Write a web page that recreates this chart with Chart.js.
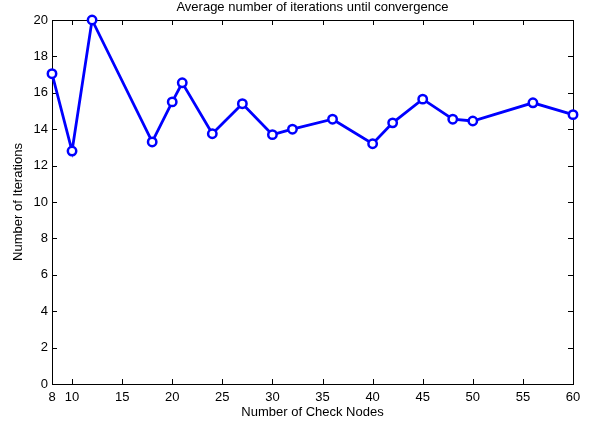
<!DOCTYPE html>
<html>
<head>
<meta charset="utf-8">
<title>Average number of iterations until convergence</title>
<script src="https://cdn.jsdelivr.net/npm/chart.js@4.4.1/dist/chart.umd.min.js"></script>
<style>
    html, body { margin: 0; padding: 0; background: #fff; }
    #wrap { width: 594px; height: 426px; }
</style>
</head>
<body>
<div id="wrap"><canvas id="iterChart" width="594" height="426"></canvas></div>
<script>
// Values
const checkNodes = [8, 10, 12, 18, 20, 21, 24, 27, 30, 32, 36, 40, 42, 45, 48, 50, 56, 60];
const iterations = [17.05, 12.8, 20, 13.3, 15.5, 16.55, 13.75, 15.4, 13.7, 14.0, 14.55, 13.2, 14.35, 15.65, 14.55, 14.45, 15.45, 14.8];
const xTicks = [8, 10, 15, 20, 25, 30, 35, 40, 45, 50, 55, 60];
const yTicks = [0, 2, 4, 6, 8, 10, 12, 14, 16, 18, 20];

const chartTitle = 'Average number of iterations until convergence';
const FONT = '"Liberation Sans", Arial, Helvetica, sans-serif';

// MATLAB style box with inward tick marks on all four sides, plus title
const matlabFrame = {
    id: 'matlabFrame',
    beforeDatasetsDraw(chart) {
        const { ctx, chartArea: a, scales } = chart;
        const len = 5;
        ctx.save();
        ctx.strokeStyle = '#000';
        ctx.lineWidth = 1;
        ctx.beginPath();
        scales.x.ticks.forEach(t => {
            const px = Math.round(scales.x.getPixelForValue(t.value)) + 0.5;
            ctx.moveTo(px, a.bottom); ctx.lineTo(px, a.bottom - len);
            ctx.moveTo(px, a.top); ctx.lineTo(px, a.top + len);
        });
        scales.y.ticks.forEach(t => {
            const py = Math.round(scales.y.getPixelForValue(t.value)) + 0.5;
            ctx.moveTo(a.left, py); ctx.lineTo(a.left + len, py);
            ctx.moveTo(a.right, py); ctx.lineTo(a.right - len, py);
        });
        ctx.stroke();
        ctx.strokeRect(Math.round(a.left) + 0.5, Math.round(a.top) + 0.5,
            Math.round(a.right - a.left), Math.round(a.bottom - a.top));

        ctx.fillStyle = '#000';
        ctx.font = '13px ' + FONT;
        ctx.textAlign = 'center';
        ctx.textBaseline = 'alphabetic';
        ctx.fillText(chartTitle, (a.left + a.right) / 2, 10.5);
        ctx.restore();
    }
};

const ctx = document.getElementById('iterChart').getContext('2d');
new Chart(ctx, {
    type: 'scatter',
    data: {
        datasets: [{
            label: 'Iterations',
            data: checkNodes.map((x, i) => ({ x: x, y: iterations[i] })),
            showLine: true,
            borderColor: '#0000ff',
            borderWidth: 2.8,
            pointStyle: 'circle',
            pointRadius: 4.2,
            pointBorderWidth: 2.5,
            pointBorderColor: '#0000ff',
            pointBackgroundColor: '#ffffff',
            clip: false
        }]
    },
    options: {
        responsive: false,
        animation: false,
        layout: { padding: { top: 20, right: 21, bottom: 0, left: 0 } },
        plugins: {
            legend: { display: false },
            tooltip: { enabled: false },
            title: { display: false }
        },
        scales: {
            x: {
                type: 'linear',
                min: 8,
                max: 60,
                grid: { display: false, drawTicks: false },
                border: { display: false },
                afterBuildTicks: scale => { scale.ticks = xTicks.map(v => ({ value: v })); },
                afterFit: scale => { scale.height = 42; },
                ticks: {
                    padding: 6,
                    color: '#000',
                    maxRotation: 0,
                    autoSkip: false,
                    font: { family: FONT, size: 13 }
                },
                title: {
                    display: true,
                    text: 'Number of Check Nodes',
                    color: '#000',
                    padding: { top: 0, bottom: 6 },
                    font: { family: FONT, size: 13 }
                }
            },
            y: {
                type: 'linear',
                min: 0,
                max: 20,
                grid: { display: false, drawTicks: false },
                border: { display: false },
                afterBuildTicks: scale => { scale.ticks = yTicks.map(v => ({ value: v })); },
                afterFit: scale => { scale.width = 52; },
                ticks: {
                    padding: 4,
                    color: '#000',
                    autoSkip: false,
                    font: { family: FONT, size: 13 }
                },
                title: {
                    display: true,
                    text: 'Number of Iterations',
                    color: '#000',
                    padding: { top: 11, bottom: 0 },
                    font: { family: FONT, size: 13 }
                }
            }
        }
    },
    plugins: [matlabFrame]
});
</script>
</body>
</html>
